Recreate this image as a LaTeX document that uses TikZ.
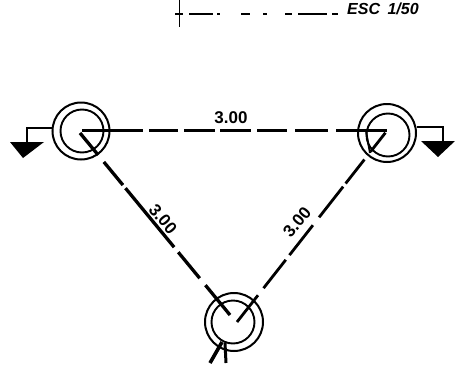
\documentclass[tikz,border=0pt]{standalone}
\usepackage{fontspec}
\setmainfont{Liberation Sans}
\tikzset{
 outerring/.style={circle,draw,line width=2pt,minimum size=57pt,inner sep=0pt},
 innerring/.style={circle,draw,line width=1.9pt,minimum size=43pt,inner sep=0pt},
 gnd/.style={fill=black},
 stem/.style={line width=1.6pt},
 heavy/.style={line width=3.3pt},
 medium/.style={line width=2.8pt},
 lbl/.style={font=\bfseries\itshape\fontsize{16}{17}\selectfont,inner sep=0pt},
 dim/.style={font=\bfseries\fontsize{17}{18}\selectfont,inner sep=0pt},
}
\begin{document}
\begin{tikzpicture}[x=1pt,y=-1pt]
\useasboundingbox (0,0) rectangle (455,364);
% rings
\node[outerring] (A) at (81,131) {};
\node[innerring] (Ai) at (82,131) {};
\node[outerring,minimum size=58pt] (B) at (387,133) {};
\node[innerring] (Bi) at (388,135) {};
\node[outerring,minimum size=58pt] (C) at (234,322) {};
\node[innerring] (Ci) at (233,322) {};
\coordinate (Ac) at (82,130.5);
\coordinate (Ad) at (80,133);
\coordinate (Bc) at (387,130.5);
\coordinate (Cc) at (230,315);
\coordinate (Cd) at (237,322);
\coordinate (Bd) at (386,132);
\coordinate (Bs) at (366,131);
\coordinate (Bt) at (370,153);
% dashed connectors
\draw[line width=2.2pt,dash pattern=on 61pt off 6pt on 29pt off 6pt on 31pt off 5pt on 31pt off 6pt on 30pt off 8pt on 33pt off 8pt on 52pt] (Ac) -- (Bc);
\draw[heavy,dash pattern=on 28.5pt off 9pt on 30pt off 4pt on 76.5pt off 6.5pt on 33.7pt off 9pt on 39pt] (Ad) -- (Cc);
\draw[medium,dash pattern=on 34pt off 9pt on 36pt off 6pt on 38pt off 10pt on 39pt off 4pt on 30.5pt off 10pt on 24pt] (Cd) -- (Bd);
\draw[line width=1.9pt] (Bs) -- (Bt);
% grounds
\coordinate (Gl) at (27,142);
\coordinate (Gr) at (443,141);
\draw[stem] (A.west) ++(0,-3) -| (Gl);
\draw[stem] (B.east) ++(0,-6) -| (Gr);
\fill[gnd] (10,142) -- (44,142) -- (23,158) -- cycle;
\fill[gnd] (421,141) -- (455,141) -- (438,157) -- cycle;
% bottom leader
\coordinate (L0) at (222,342);
\coordinate (L1) at (210,363);
\coordinate (L2) at (225,343);
\coordinate (L3) at (226,363);
\draw[line width=3.6pt] (L0) -- (L1);
\draw[line width=3pt] (L2) -- (L3);
% scale bar
\coordinate (T1) at (179,0);
\coordinate (T2) at (179,27);
\coordinate (T3) at (175,14);
\coordinate (T4) at (183,14);
\coordinate (S1) at (189,14);
\coordinate (S2) at (338,14);
\draw[line width=.9pt] (T1) -- (T2);
\draw[line width=1.6pt] (T3) -- (T4);
\draw[line width=1.2pt,dash pattern=on 24pt off 4pt on 3pt off 21pt on 9pt off 13pt on 4pt off 18pt on 7pt off 6pt on 29pt off 5pt on 6pt] (S1) -- (S2);
\node[lbl,anchor=west] (esc) at (347,8.5) {ESC\hspace{3pt} 1/50};
% dimensions
\node[dim] (d1) at (231,118) {3.00};
\node[dim,rotate=-50] (d2) at (163,219) {3.00};
\node[dim,rotate=50] (d3) at (297,222) {3.00};
\end{tikzpicture}
\end{document}
